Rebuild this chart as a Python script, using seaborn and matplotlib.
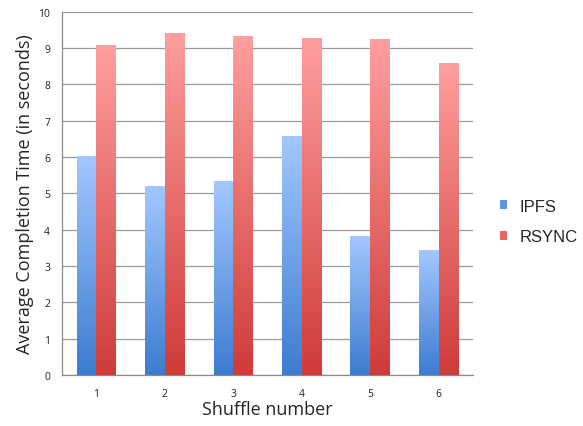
import numpy as np
import pandas as pd
import matplotlib
matplotlib.use("Agg")
import matplotlib.pyplot as plt
from matplotlib.colors import LinearSegmentedColormap
from matplotlib.patches import Patch
import seaborn as sns

# data
shuffles = ["1", "2", "3", "4", "5", "6"]
ipfs = [6.04, 5.21, 5.33, 6.59, 3.82, 3.44]
rsync = [9.08, 9.42, 9.33, 9.28, 9.24, 8.59]
series = ["IPFS", "RSYNC"]

df = pd.DataFrame({
    "Shuffle": shuffles * 2,
    "Time": ipfs + rsync,
    "Method": ["IPFS"] * len(shuffles) + ["RSYNC"] * len(shuffles),
})

sns.set_style("white")
plt.rcParams['font.family'] = ['Liberation Sans', 'DejaVu Sans']

fig = plt.figure(figsize=(5.83, 4.27), dpi=100)
ax = fig.add_axes([0.1063, 0.1194, 0.7047, 0.8506])

sns.barplot(data=df, x="Shuffle", y="Time", hue="Method", ax=ax,
            width=0.573, gap=0, legend=False, errorbar=None,
            palette={"IPFS": "#6a9be6", "RSYNC": "#e86a68"})

# gradient fills, light at top and dark at bottom of each bar (Excel look)
cmaps = {
    "IPFS": LinearSegmentedColormap.from_list("b", ["#3d7cd0", "#a3c8ff"]),
    "RSYNC": LinearSegmentedColormap.from_list("r", ["#cf3b39", "#ff9f9e"]),
}
grad = np.linspace(0, 1, 256).reshape(-1, 1)
for i, patch in enumerate(list(ax.patches)):
    name = series[i // len(shuffles)]
    x0, y0 = patch.get_x(), patch.get_y()
    w, h = patch.get_width(), patch.get_height()
    if h <= 0:
        continue
    im = ax.imshow(grad, cmap=cmaps[name], origin="lower", aspect="auto",
                   extent=[x0, x0 + w, y0, y0 + h], zorder=3)
    im.set_clip_path(patch)
    patch.set_facecolor("none")
    patch.set_edgecolor("none")
ax.set_xlim(-0.5, 5.5)
ax.set_ylim(0, 10)

# grid and spines
ax.set_yticks(range(0, 11))
ax.yaxis.grid(True, color="#9a9a9a", linewidth=0.9)
ax.set_axisbelow(True)
for s in ["top", "right"]:
    ax.spines[s].set_visible(False)
for s in ["left", "bottom"]:
    ax.spines[s].set_color("#8a8a8a")
    ax.spines[s].set_linewidth(0.9)

# x ticks at category borders, labels centred
ax.set_xticks(np.arange(-0.5, 6.0, 1.0), minor=False)
ax.set_xticklabels([])
ax.set_xticks(range(len(shuffles)), minor=True)
ax.set_xticklabels(shuffles, minor=True)
ax.tick_params(axis="x", which="major", direction="out", length=5, color="#8a8a8a", width=0.9)
ax.tick_params(axis="x", which="minor", length=0, labelsize=7.5, pad=9, labelcolor="#222222")
ax.tick_params(axis="y", direction="out", length=5, color="#8a8a8a", width=0.9,
               labelsize=7.5, labelcolor="#222222")
for lab in ax.get_xticklabels(minor=True) + ax.get_yticklabels():
    lab.set_family(["Open Sans", "DejaVu Sans"])

ax.set_xlabel("Shuffle number", fontsize=13, family=["Open Sans", "DejaVu Sans"], labelpad=1)
ax.set_ylabel("Average Completion Time (in seconds)", fontsize=13,
              family=["Open Sans", "DejaVu Sans"], labelpad=3)

handles = [Patch(facecolor="#5f93e0", edgecolor="none"),
           Patch(facecolor="#e66462", edgecolor="none")]
fig.legend(handles, series, loc="center left", bbox_to_anchor=(0.857, 0.479),
           frameon=False, fontsize=12, handlelength=0.45, handleheight=0.45,
           handletextpad=0.75, labelspacing=0.95, borderaxespad=0, borderpad=0)

fig.savefig("out.png", dpi=100)
